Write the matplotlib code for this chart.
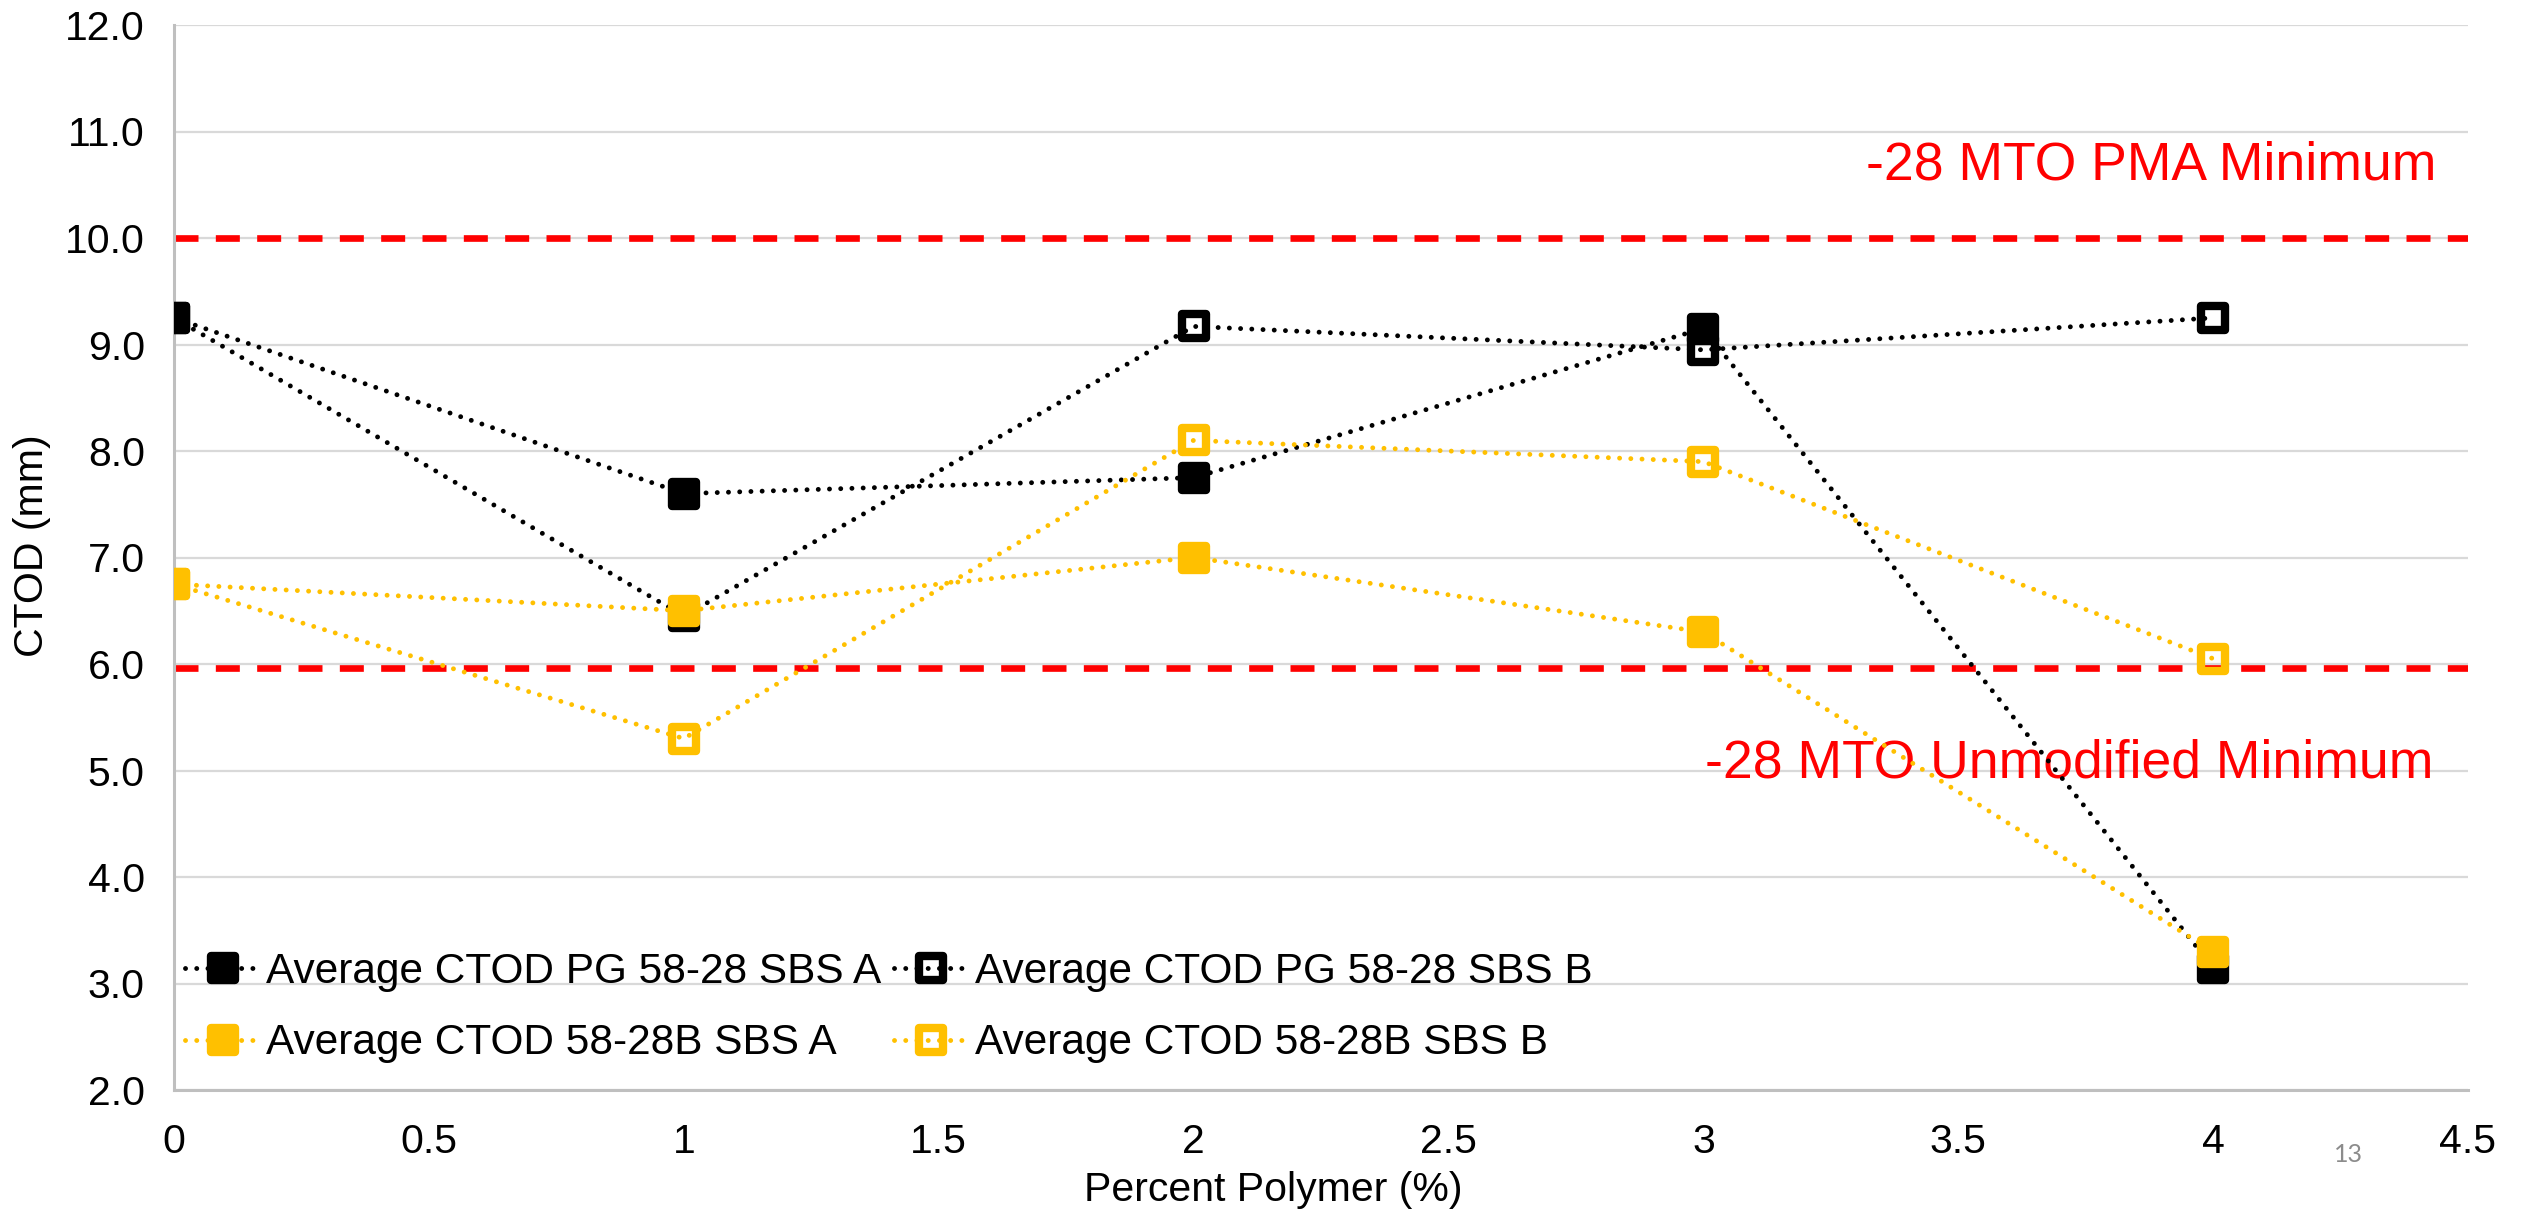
"""CTOD versus polymer content for two binders with two SBS grades."""

import matplotlib

matplotlib.use("Agg")
import matplotlib.pyplot as plt
from matplotlib.markers import MarkerStyle
from matplotlib.ticker import FuncFormatter, MultipleLocator

plt.rcParams["font.family"] = ["Liberation Sans", "DejaVu Sans"]

# percent polymer
polymer = [0, 1, 2, 3, 4]

# average CTOD (mm) per series
pg_sbs_a = [9.25, 7.60, 7.75, 9.15, 3.15]
pg_sbs_b = [9.25, 6.45, 9.17, 8.95, 9.25]
b_sbs_a = [6.75, 6.50, 7.00, 6.30, 3.30]
b_sbs_b = [6.75, 5.30, 8.10, 7.90, 6.05]

labels = [
    "Average CTOD PG 58-28 SBS A",
    "Average CTOD PG 58-28 SBS B",
    "Average CTOD 58-28B SBS A",
    "Average CTOD 58-28B SBS B",
]

pma_minimum = 10.0
unmodified_minimum = 5.96

BLACK = "#000000"
GOLD = "#FFC000"
RED = "#FF0000"

fig = plt.figure(figsize=(25.26, 12.10), dpi=100)
ax = fig.add_axes([174 / 2526, 1 - 1090 / 1210, 2294 / 2526, 1065 / 1210])

# threshold lines and their captions sit under the data
dash_kw = dict(color=RED, linewidth=4.8, dashes=(3.6, 2.6), dash_capstyle="butt", zorder=2)
ax.axhline(pma_minimum, **dash_kw)
ax.axhline(unmodified_minimum, **dash_kw)
ax.text(4.437, 10.545, "-28 MTO PMA Minimum", color=RED, fontsize=38.5,
        ha="right", va="baseline", zorder=2)
ax.text(4.432, 4.93, "-28 MTO Unmodified Minimum", color=RED, fontsize=38.5,
        ha="right", va="baseline", zorder=2)

square = MarkerStyle("s", joinstyle="round")
line_kw = dict(linewidth=3.5, dashes=(0.01, 2.3), dash_capstyle="round",
               marker=square, markersize=17, markeredgewidth=6, zorder=3)

series = [
    (pg_sbs_a, BLACK, True),
    (pg_sbs_b, BLACK, False),
    (b_sbs_a, GOLD, True),
    (b_sbs_b, GOLD, False),
]
handles = []
for (values, color, filled), label in zip(series, labels):
    (h,) = ax.plot(polymer, values, color=color, markeredgecolor=color,
                   markerfacecolor=color if filled else "none",
                   label=label, **line_kw)
    handles.append(h)

ax.set_xlim(0, 4.5)
ax.set_ylim(2.0, 12.0)
ax.xaxis.set_major_locator(MultipleLocator(0.5))
ax.yaxis.set_major_locator(MultipleLocator(1.0))
ax.xaxis.set_major_formatter(FuncFormatter(lambda v, _: f"{v:g}"))
ax.yaxis.set_major_formatter(FuncFormatter(lambda v, _: f"{v:.1f}"))
ax.tick_params(axis="both", length=0, labelsize=29.5)
ax.tick_params(axis="y", pad=21)
ax.tick_params(axis="x", pad=24)

ax.grid(axis="y", color="#d9d9d9", linewidth=1.6, zorder=0)
ax.set_axisbelow(True)
for side in ("top", "right"):
    ax.spines[side].set_visible(False)
for side in ("left", "bottom"):
    ax.spines[side].set_color("#bfbfbf")
    ax.spines[side].set_linewidth(2.2)

ax.set_xlabel("Percent Polymer (%)", fontsize=29.5, va="baseline")
ax.set_ylabel("CTOD (mm)", fontsize=29.5, va="baseline")
ax.xaxis.set_label_coords(0.479, -0.104)
ax.yaxis.set_label_coords(-0.057, 0.511)

# Excel lays the legend out row by row, matplotlib column by column
order = [0, 2, 1, 3]
ax.legend([handles[i] for i in order], [labels[i] for i in order],
          ncol=2, loc="lower left", bbox_to_anchor=(0.005, 0.025),
          frameon=False, fontsize=30.5, borderaxespad=0, borderpad=0,
          handlelength=1.75, handletextpad=0.16, columnspacing=0.3,
          labelspacing=0.75)

fig.text(2348 / 2526, 1 - 1155 / 1210, "13", color="#8c8c8c", fontsize=18,
         family=["Lato", "DejaVu Sans"], ha="center", va="center")

fig.savefig("out.png", dpi=100, facecolor="white")
plt.close(fig)
